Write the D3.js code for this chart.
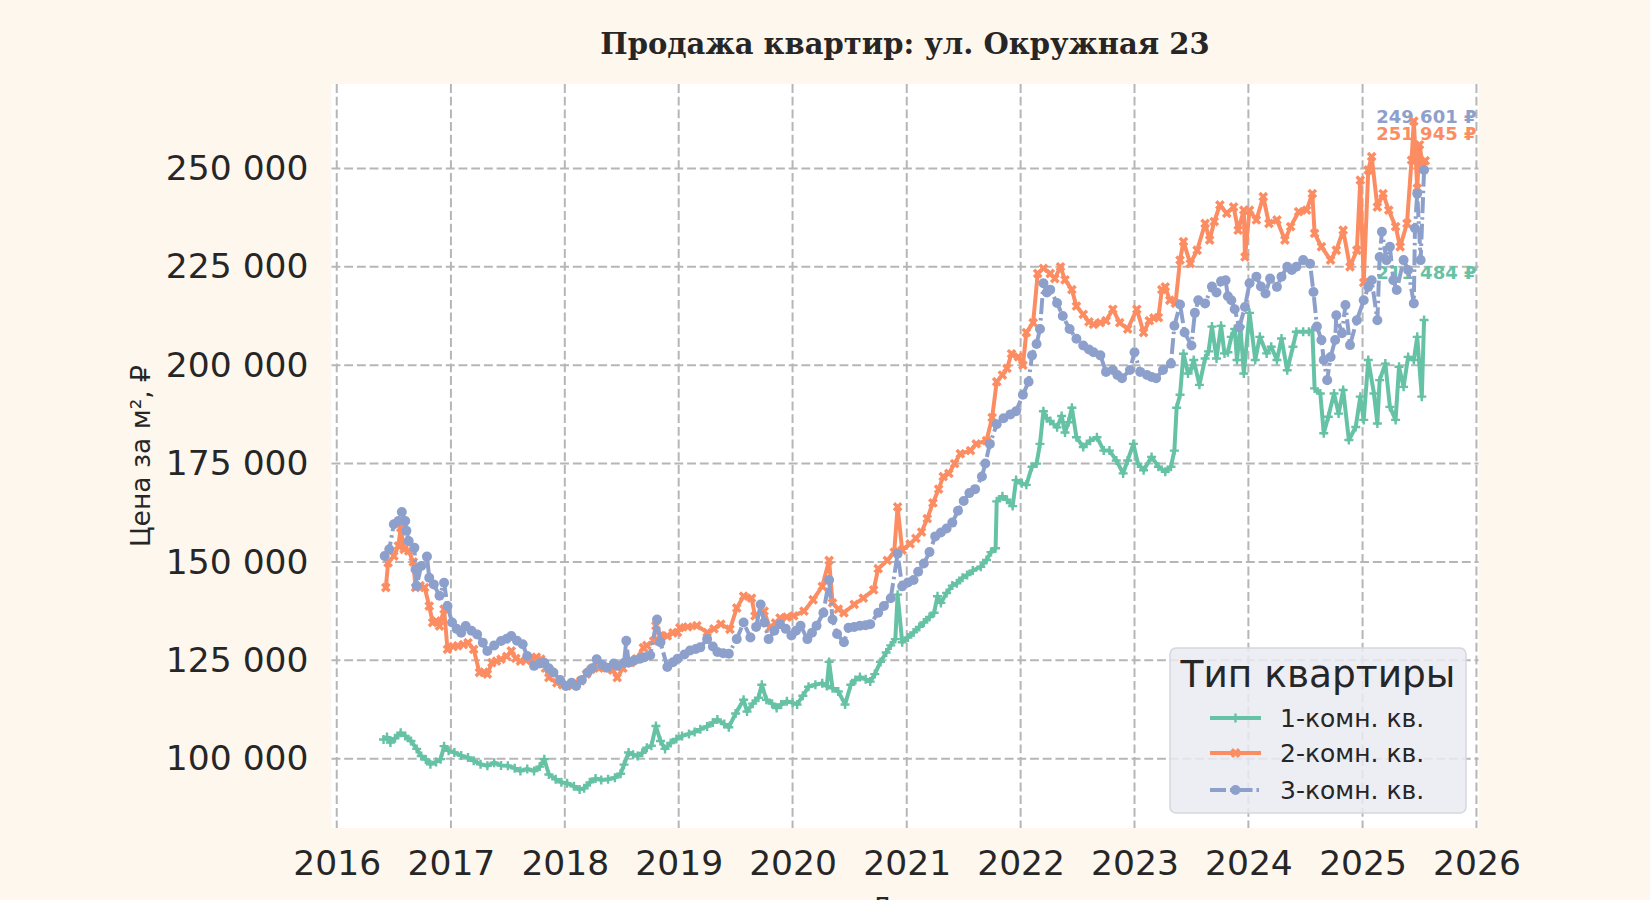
<!DOCTYPE html>
<html>
<head>
<meta charset="utf-8">
<script src="https://cdn.jsdelivr.net/npm/d3@7"></script>
<style>
  body { margin: 0; background: #fef7ee; }
  svg { display: block; }
</style>
</head>
<body>
<svg width="1650" height="900"></svg>
<script>
// series: [decimal year, price per m2]
var room1 = [
  [2016.41,104900],[2016.44,105500],[2016.47,104100],[2016.51,105200],[2016.56,106600],[2016.60,105800],
  [2016.65,104500],[2016.70,102500],[2016.74,100700],[2016.78,99800],[2016.82,98600],[2016.87,99200],
  [2016.91,99900],[2016.94,103200],[2016.98,102000],[2017.03,101600],[2017.09,100800],[2017.15,100300],
  [2017.20,99500],[2017.26,98600],[2017.32,98200],[2017.38,99000],[2017.44,98300],[2017.50,98200],
  [2017.56,97600],[2017.61,96900],[2017.67,97400],[2017.73,96900],[2017.78,98000],[2017.82,99900],
  [2017.86,96000],[2017.92,94800],[2017.97,94000],[2018.02,93800],[2018.08,93000],[2018.13,92200],
  [2018.17,92500],[2018.22,94000],[2018.27,95000],[2018.32,94600],[2018.38,94800],[2018.44,95200],
  [2018.49,96200],[2018.52,98500],[2018.56,101600],[2018.60,101000],[2018.64,100700],[2018.68,101500],
  [2018.72,102800],[2018.76,103300],[2018.80,108300],[2018.84,104500],[2018.88,102500],[2018.93,104000],
  [2018.98,105000],[2019.03,105800],[2019.09,106300],[2019.14,106800],[2019.19,107500],[2019.25,108200],
  [2019.30,109200],[2019.34,110000],[2019.40,108800],[2019.44,108000],[2019.50,111500],[2019.57,115000],
  [2019.60,112000],[2019.65,114000],[2019.70,115500],[2019.73,118800],[2019.77,115000],[2019.82,114000],
  [2019.86,112900],[2019.90,113800],[2019.95,114600],[2020.00,114200],[2020.04,113800],[2020.09,116000],
  [2020.14,118300],[2020.20,118800],[2020.26,119200],[2020.30,118500],[2020.32,124600],[2020.35,117900],
  [2020.40,117100],[2020.46,113800],[2020.51,118800],[2020.55,120000],[2020.59,120800],[2020.64,120200],
  [2020.68,119600],[2020.72,121500],[2020.77,124600],[2020.82,127000],[2020.86,128800],[2020.90,130400],
  [2020.92,141700],[2020.96,129600],[2021.01,130800],[2021.06,132100],[2021.11,133500],[2021.15,134600],
  [2021.20,136000],[2021.24,137100],[2021.27,141300],[2021.30,139600],[2021.35,142100],[2021.40,144000],
  [2021.44,144600],[2021.49,146000],[2021.53,146700],[2021.58,147800],[2021.65,148800],[2021.70,150500],
  [2021.74,152500],[2021.78,153500],[2021.79,165400],[2021.84,166700],[2021.88,165800],[2021.93,164200],
  [2021.96,170800],[2022.01,170000],[2022.05,169600],[2022.10,174200],[2022.14,175000],[2022.17,180000],
  [2022.20,188300],[2022.23,186500],[2022.26,185800],[2022.32,184200],[2022.36,187100],[2022.39,182900],
  [2022.42,185500],[2022.45,189200],[2022.49,181700],[2022.55,179200],[2022.61,180800],[2022.67,181700],
  [2022.73,178300],[2022.78,178300],[2022.84,175800],[2022.90,172500],[2022.94,175800],[2022.99,180000],
  [2023.03,175000],[2023.08,173300],[2023.15,176700],[2023.21,174200],[2023.27,172900],[2023.32,174200],
  [2023.35,178300],[2023.37,189200],[2023.40,192500],[2023.43,202900],[2023.47,197900],[2023.50,199200],
  [2023.52,201300],[2023.57,195000],[2023.62,201700],[2023.65,203500],[2023.68,209800],[2023.72,201700],
  [2023.76,210000],[2023.79,203000],[2023.82,203300],[2023.85,207200],[2023.88,209200],[2023.90,201300],
  [2023.93,209800],[2023.96,197900],[2024.01,213300],[2024.06,201300],[2024.10,207200],[2024.16,203000],
  [2024.20,204700],[2024.25,201300],[2024.29,206800],[2024.34,198700],[2024.39,204700],[2024.42,208500],
  [2024.48,208500],[2024.53,208500],[2024.56,208900],[2024.58,194100],[2024.63,192800],[2024.66,182700],
  [2024.70,186900],[2024.75,192800],[2024.79,187700],[2024.83,193700],[2024.88,181000],[2024.94,184300],
  [2024.98,192000],[2025.01,186100],[2025.05,201300],[2025.10,192800],[2025.13,185200],[2025.15,196200],
  [2025.20,200400],[2025.24,189400],[2025.29,186100],[2025.32,199600],[2025.36,194500],[2025.40,202100],
  [2025.45,201300],[2025.48,207200],[2025.52,192000],[2025.54,211484]
];

var room2 = [
  [2016.43,143500],[2016.45,149800],[2016.50,151500],[2016.54,154100],[2016.56,158700],[2016.59,153200],
  [2016.63,152800],[2016.67,150000],[2016.69,143500],[2016.73,144000],[2016.77,143500],[2016.81,138800],
  [2016.84,134600],[2016.87,135000],[2016.90,133700],[2016.94,138000],[2016.97,127800],[2017.02,128500],
  [2017.06,128700],[2017.11,129000],[2017.15,129500],[2017.20,127800],[2017.25,121900],[2017.29,122000],
  [2017.32,121500],[2017.36,124400],[2017.40,124800],[2017.44,125300],[2017.49,126000],[2017.53,127400],
  [2017.57,125500],[2017.61,124800],[2017.66,125000],[2017.70,125300],[2017.75,125800],[2017.79,125300],
  [2017.83,123000],[2017.86,120600],[2017.93,119300],[2017.98,118800],[2018.02,118500],[2018.08,119000],
  [2018.14,119800],[2018.19,121500],[2018.23,122700],[2018.30,123000],[2018.37,123100],[2018.42,122500],
  [2018.46,120600],[2018.51,123000],[2018.55,124600],[2018.58,124400],[2018.63,125400],[2018.69,128200],
  [2018.72,128800],[2018.78,129900],[2018.80,133800],[2018.84,131300],[2018.90,131200],[2018.95,132000],
  [2018.99,132100],[2019.01,133300],[2019.08,133500],[2019.16,133800],[2019.25,132100],[2019.31,133000],
  [2019.37,134200],[2019.45,132900],[2019.51,138300],[2019.57,141300],[2019.64,140800],[2019.67,136300],
  [2019.75,137500],[2019.80,133300],[2019.85,134500],[2019.89,135800],[2019.95,136000],[2020.01,136300],
  [2020.10,137500],[2020.18,140400],[2020.26,143800],[2020.32,150400],[2020.35,139600],[2020.40,138000],
  [2020.45,137100],[2020.54,139200],[2020.62,140800],[2020.71,142900],[2020.75,148300],[2020.83,150400],
  [2020.89,152500],[2020.92,164000],[2020.96,153000],[2021.03,154600],[2021.08,156000],[2021.13,157600],
  [2021.18,161000],[2021.23,165000],[2021.28,168500],[2021.32,171700],[2021.37,172500],[2021.42,175000],
  [2021.47,177500],[2021.56,178300],[2021.61,180000],[2021.70,180800],[2021.75,186700],[2021.79,195800],
  [2021.84,197500],[2021.88,199200],[2021.92,202900],[2021.98,202100],[2022.02,200000],[2022.05,208300],
  [2022.11,210800],[2022.15,223300],[2022.20,224600],[2022.26,223300],[2022.30,222000],[2022.35,225000],
  [2022.39,221700],[2022.45,219200],[2022.49,215000],[2022.55,212900],[2022.60,211000],[2022.64,210400],
  [2022.70,210800],[2022.75,211300],[2022.81,214200],[2022.87,210800],[2022.94,209200],[2023.02,214200],
  [2023.08,208300],[2023.13,211300],[2023.17,212000],[2023.21,212100],[2023.24,219200],[2023.27,219900],
  [2023.31,216500],[2023.36,215700],[2023.40,226700],[2023.43,231400],[2023.49,225800],[2023.55,229200],
  [2023.62,236000],[2023.66,231800],[2023.70,236500],[2023.75,240700],[2023.81,238600],[2023.87,240200],
  [2023.91,234300],[2023.96,239400],[2023.97,227500],[2024.01,239400],[2024.07,236900],[2024.13,242800],
  [2024.18,236000],[2024.25,236900],[2024.32,231800],[2024.37,235200],[2024.44,239000],[2024.51,239400],
  [2024.56,243600],[2024.58,233500],[2024.64,230100],[2024.72,226700],[2024.77,229200],[2024.83,234300],
  [2024.89,225000],[2024.95,229200],[2024.98,247000],[2025.01,221000],[2025.05,249600],[2025.08,253000],
  [2025.13,240200],[2025.18,243600],[2025.23,239400],[2025.29,235200],[2025.33,230100],[2025.39,236000],
  [2025.43,252100],[2025.45,262000],[2025.48,245000],[2025.50,256000],[2025.53,250500],[2025.55,251945]
];

var room3 = [
  [2016.42,151500],[2016.46,153200],[2016.50,159600],[2016.54,160400],[2016.57,162700],[2016.60,160400],
  [2016.61,157900],[2016.63,155300],[2016.68,153600],[2016.69,148100],[2016.70,143900],[2016.74,149000],
  [2016.79,151400],[2016.81,146000],[2016.85,144300],[2016.90,141400],[2016.94,144700],[2016.97,138800],
  [2017.01,134600],[2017.05,133000],[2017.09,132000],[2017.13,133700],[2017.18,132500],[2017.23,131600],
  [2017.28,129500],[2017.32,127400],[2017.38,128800],[2017.44,129900],[2017.49,130500],[2017.53,131200],
  [2017.58,130000],[2017.63,129100],[2017.67,126100],[2017.73,123600],[2017.78,124200],[2017.82,124400],
  [2017.86,123000],[2017.90,121900],[2017.96,120000],[2018.01,118500],[2018.06,119300],[2018.10,118500],
  [2018.15,120000],[2018.20,121900],[2018.24,123000],[2018.28,125300],[2018.33,123800],[2018.37,123100],
  [2018.43,124200],[2018.46,123600],[2018.52,124400],[2018.54,130000],[2018.56,124400],[2018.61,125000],
  [2018.66,125400],[2018.70,125800],[2018.75,126300],[2018.81,135400],[2018.84,129600],[2018.90,123300],
  [2018.95,124500],[2018.99,125400],[2019.05,126500],[2019.10,127500],[2019.15,127900],[2019.19,128300],
  [2019.25,130400],[2019.30,128500],[2019.34,127100],[2019.39,126800],[2019.44,126700],[2019.51,130400],
  [2019.57,134600],[2019.63,130800],[2019.68,133500],[2019.72,139200],[2019.75,134600],[2019.79,130400],
  [2019.84,132500],[2019.89,134200],[2019.94,133000],[2019.99,131300],[2020.03,132500],[2020.07,133800],
  [2020.13,130400],[2020.17,132000],[2020.21,133800],[2020.27,137100],[2020.32,145400],[2020.35,135400],
  [2020.39,131700],[2020.45,129600],[2020.49,133300],[2020.54,133500],[2020.59,133800],[2020.64,133900],
  [2020.68,134200],[2020.75,137100],[2020.80,138800],[2020.86,140800],[2020.92,152100],[2020.96,143800],
  [2021.01,144800],[2021.06,145400],[2021.10,147500],[2021.15,149600],[2021.20,152500],[2021.25,156500],
  [2021.30,157500],[2021.35,158500],[2021.40,160000],[2021.45,163000],[2021.50,165500],[2021.55,167500],
  [2021.60,168500],[2021.66,171700],[2021.69,175000],[2021.73,180000],[2021.79,185000],[2021.85,186500],
  [2021.91,187500],[2021.96,188300],[2022.02,192500],[2022.07,195800],[2022.10,202500],[2022.14,205400],
  [2022.17,209200],[2022.20,220800],[2022.23,218500],[2022.26,219200],[2022.32,215800],[2022.37,212500],
  [2022.43,209200],[2022.49,206700],[2022.55,205000],[2022.60,204000],[2022.64,203300],[2022.70,202500],
  [2022.75,198300],[2022.81,198800],[2022.85,197500],[2022.89,196700],[2022.96,198800],[2023.00,203300],
  [2023.05,198300],[2023.11,197500],[2023.15,197000],[2023.19,196700],[2023.25,198800],[2023.32,200400],
  [2023.35,210000],[2023.40,215400],[2023.44,208300],[2023.50,205000],[2023.53,213300],[2023.56,216500],
  [2023.62,215700],[2023.68,220000],[2023.72,218500],[2023.76,221300],[2023.80,221600],[2023.82,217500],
  [2023.85,216500],[2023.88,214200],[2023.92,209600],[2023.97,214800],[2024.01,220800],[2024.07,222500],
  [2024.11,220000],[2024.15,218200],[2024.19,222000],[2024.25,219900],[2024.29,222500],[2024.34,225000],
  [2024.38,224200],[2024.42,225000],[2024.48,226700],[2024.54,225800],[2024.57,218600],[2024.60,209800],
  [2024.64,206400],[2024.66,201300],[2024.69,196200],[2024.72,202100],[2024.76,206400],[2024.77,212700],
  [2024.82,208100],[2024.85,215300],[2024.89,205100],[2024.95,211400],[2025.01,216500],[2025.05,219900],
  [2025.08,221600],[2025.13,211400],[2025.15,227500],[2025.17,233900],[2025.21,226700],[2025.24,230100],
  [2025.27,221600],[2025.30,219100],[2025.36,226700],[2025.40,224200],[2025.45,215700],[2025.46,234800],
  [2025.48,243600],[2025.51,226700],[2025.54,249601]
];

var seriesNames = ["1-комн. кв.", "2-комн. кв.", "3-комн. кв."];
var colors = ["#66c2a5", "#fc8d62", "#8da0cb"];
var yTicks = [100000, 125000, 150000, 175000, 200000, 225000, 250000];
var xTickYears = [2016, 2017, 2018, 2019, 2020, 2021, 2022, 2023, 2024, 2025, 2026];
// value at which each end label sits (labels were nudged apart in the original)
var labelY = [223600, 258800, 263100];

function toDate(y) {
    var yr = Math.floor(y);
    var a = Date.UTC(yr, 0, 1), b = Date.UTC(yr + 1, 0, 1);
    return new Date(a + (y - yr) * (b - a));
}

function main() {
    var svg = d3.select("svg");
    var W = 1650, H = 900;
    var margin = {left: 331.5, right: 171.5, top: 84, bottom: 72};
    var width = W - margin.left - margin.right;
    var height = H - margin.top - margin.bottom;
    var font = "DejaVu Sans, sans-serif";

    svg.append("rect").attr("width", W).attr("height", H).attr("fill", "#fef7ee");

    svg.append("text")
        .attr("x", margin.left + width / 2)
        .attr("y", 54)
        .attr("text-anchor", "middle")
        .attr("font-family", "DejaVu Serif, serif")
        .attr("font-weight", "bold")
        .attr("font-size", "29px")
        .attr("fill", "#262626")
        .text("Продажа квартир: ул. Окружная 23");

    var g = svg.append("g").attr("transform", "translate(" + margin.left + "," + margin.top + ")");

    g.append("rect").attr("width", width).attr("height", height).attr("fill", "#ffffff");

    var xScale = d3.scaleUtc().domain([toDate(2015.954), toDate(2026.018)]).range([0, width]);
    var yScale = d3.scaleLinear().domain([82400, 271450]).range([height, 0]);

    var fmt = d3.formatLocale({decimal: ",", thousands: " ", grouping: [3], currency: ["", ""]}).format(",d");

    // grid
    g.append("g").selectAll("line.gx")
        .data(xTickYears).enter().append("line")
        .attr("x1", function (d) { return xScale(toDate(d)); })
        .attr("x2", function (d) { return xScale(toDate(d)); })
        .attr("y1", 0).attr("y2", height)
        .attr("stroke", "#b6b6b6").attr("stroke-width", 2).attr("stroke-dasharray", "8.9,3.8");
    g.append("g").selectAll("line.gy")
        .data(yTicks).enter().append("line")
        .attr("x1", 0).attr("x2", width)
        .attr("y1", function (d) { return yScale(d); })
        .attr("y2", function (d) { return yScale(d); })
        .attr("stroke", "#b6b6b6").attr("stroke-width", 2).attr("stroke-dasharray", "8.9,3.8");

    // axes
    var xAxis = g.append("g")
        .attr("transform", "translate(0," + height + ")")
        .call(d3.axisBottom(xScale).tickValues(xTickYears.map(toDate))
            .tickFormat(d3.utcFormat("%Y")).tickSize(0).tickPadding(23));
    var yAxis = g.append("g")
        .call(d3.axisLeft(yScale).tickValues(yTicks).tickFormat(fmt).tickSize(0).tickPadding(23));
    [xAxis, yAxis].forEach(function (a) {
        a.select(".domain").remove();
        a.selectAll("text").attr("font-family", font).attr("font-size", "34.5px").attr("fill", "#262626");
    });

    svg.append("text")
        .attr("transform", "translate(150," + (margin.top + height / 2) + ") rotate(-90)")
        .attr("text-anchor", "middle")
        .attr("font-family", font).attr("font-size", "26.5px").attr("fill", "#262626")
        .text("Цена за м², ₽");
    svg.append("text")
        .attr("x", margin.left + width / 2).attr("y", 917)
        .attr("text-anchor", "middle")
        .attr("font-family", font).attr("font-size", "26px").attr("fill", "#262626")
        .text("Дата");

    var all = [room1, room2, room3];

    // end labels (under the lines)
    all.forEach(function (s, i) {
        var last = s[s.length - 1];
        g.append("text")
            .attr("x", width - 2)
            .attr("y", yScale(labelY[i]))
            .attr("dy", "0.35em")
            .attr("text-anchor", "end")
            .attr("font-family", font).attr("font-weight", "bold").attr("font-size", "18px")
            .attr("fill", colors[i])
            .text(fmt(last[1]) + " ₽");
    });

    var line = d3.line()
        .x(function (d) { return xScale(toDate(d[0])); })
        .y(function (d) { return yScale(d[1]); });

    var dashes = [null, null, "16,4,2.5,4"];
    var plusPath = "M-4.5,0H4.5M0,-4.5V4.5";
    var xPath = d3.symbol().type(d3.symbolCross).size(60)();

    function drawMarker(sel, i) {
        if (i === 0) {
            sel.append("path").attr("d", plusPath).attr("stroke", colors[0]).attr("stroke-width", 2.4).attr("fill", "none");
        } else if (i === 1) {
            sel.append("path").attr("d", xPath).attr("transform", "rotate(45)").attr("fill", colors[1]);
        } else {
            sel.append("circle").attr("r", 5).attr("fill", colors[2]);
        }
    }

    all.forEach(function (s, i) {
        g.append("path")
            .datum(s)
            .attr("fill", "none")
            .attr("stroke", colors[i])
            .attr("stroke-width", 4)
            .attr("stroke-linejoin", "round")
            .attr("stroke-dasharray", dashes[i])
            .attr("d", line);
        var pts = g.append("g").selectAll("g")
            .data(s).enter().append("g")
            .attr("transform", function (d) { return "translate(" + xScale(toDate(d[0])) + "," + yScale(d[1]) + ")"; });
        drawMarker(pts, i);
    });

    // legend
    var lg = svg.append("g").attr("transform", "translate(1170,648)");
    lg.append("rect")
        .attr("width", 296).attr("height", 165).attr("rx", 6)
        .attr("fill", "#eaeaf2").attr("fill-opacity", 0.85)
        .attr("stroke", "#d6d6de").attr("stroke-width", 1.5);
    lg.append("text")
        .attr("x", 148).attr("y", 39)
        .attr("text-anchor", "middle")
        .attr("font-family", font).attr("font-size", "37.5px").attr("fill", "#262626")
        .text("Тип квартиры");
    var rows = [70, 105, 142];
    seriesNames.forEach(function (name, i) {
        var row = lg.append("g").attr("transform", "translate(0," + rows[i] + ")");
        row.append("line")
            .attr("x1", 40).attr("x2", 91)
            .attr("stroke", colors[i]).attr("stroke-width", 4)
            .attr("stroke-dasharray", dashes[i]);
        var m = row.append("g").attr("transform", "translate(65.5,0)");
        drawMarker(m, i);
        row.append("text")
            .attr("x", 110).attr("dy", "0.35em")
            .attr("font-family", font).attr("font-size", "25px").attr("fill", "#262626")
            .text(name);
    });
}

main();
</script>
</body>
</html>
